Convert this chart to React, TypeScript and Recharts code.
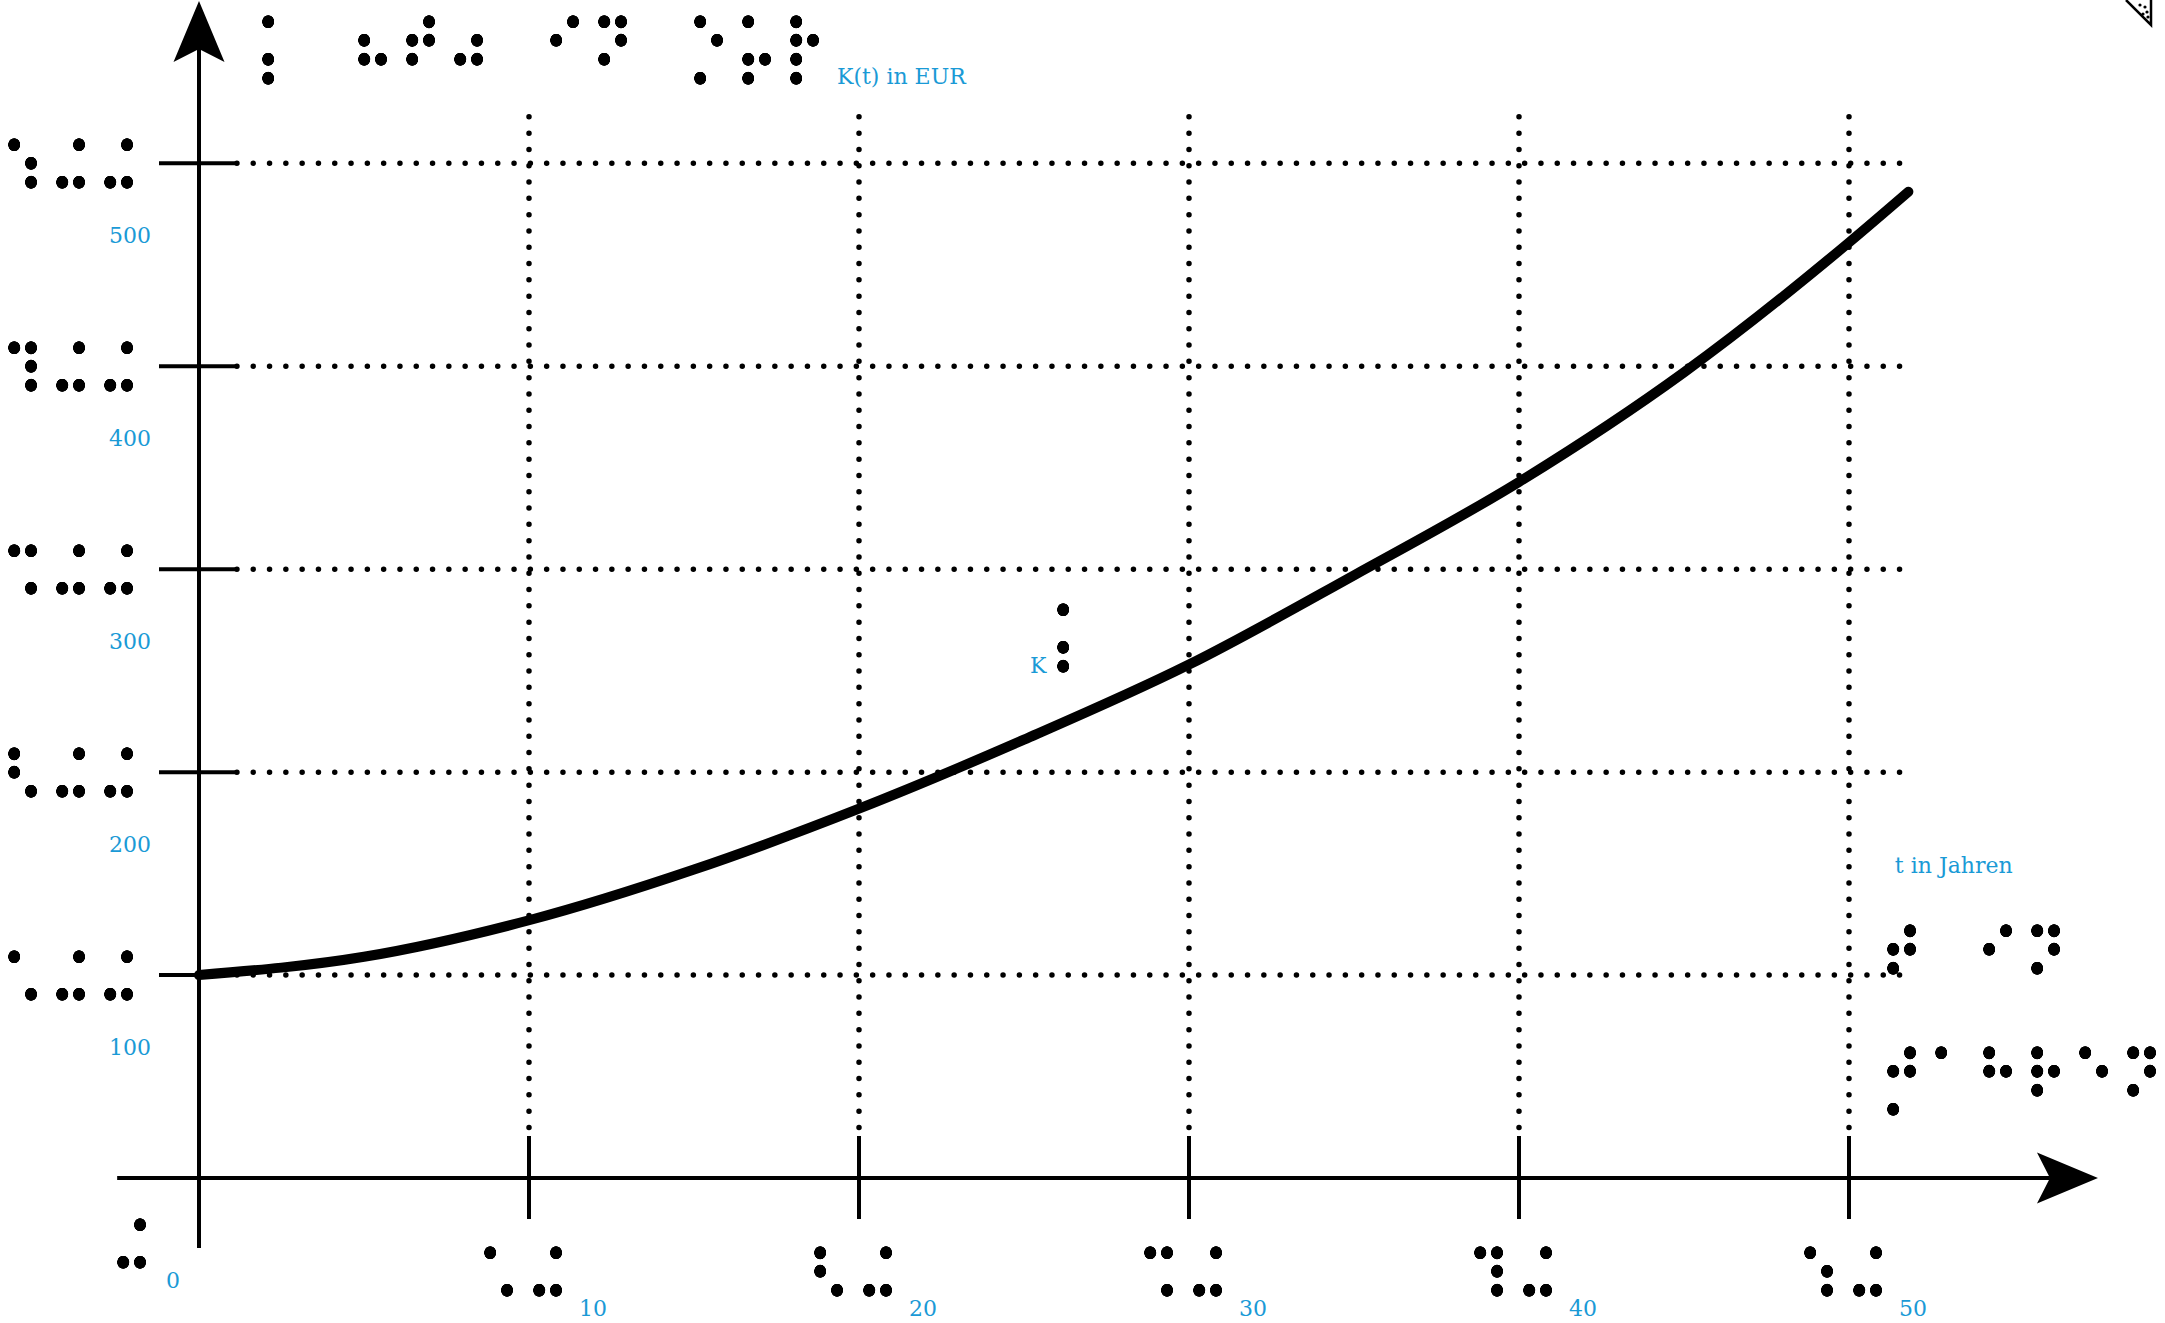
import React from "react";
import { LineChart, Line, XAxis, YAxis, ReferenceLine, ReferenceDot } from "recharts";

// K(t)
const years = [0, 5, 10, 15, 20, 25, 30, 35, 40, 45, 50, 51.8];
const capital = [100, 109, 127, 152, 182, 216, 253, 297, 343, 397, 461, 486];

const xTicks = [0, 10, 20, 30, 40, 50];
const yTicks = [100, 200, 300, 400, 500];
// eurobraille digits
const xTickBraille = ["\u282C", "\u2821\u282C", "\u2823\u282C", "\u2829\u282C", "\u2839\u282C", "\u2831\u282C"];
const yTickBraille = ["\u2821\u282C\u282C", "\u2823\u282C\u282C", "\u2829\u282C\u282C", "\u2839\u282C\u282C", "\u2831\u282C\u282C"];

const yTitle = "K(t) in EUR";
const yTitleBraille = "\u2845\u2800\u2826\u281E\u2834\u2800\u280A\u281D\u2800\u2851\u2865\u2857";
const xTitle = "t in Jahren";
const xTitleBraille = ["\u281E\u2800\u280A\u281D", "\u285A\u2801\u2813\u2817\u2811\u281D"];
const curveName = "K";
const curveBraille = "\u2845";

const data = years.map((t, i) => ({ t, k: capital[i] }));

const BLUE = "#1a9ad6";
const INK = "'DejaVu Serif', serif";

// DejaVu Sans braille glyph metrics (em), measured
const BR_A = 0.215; // centre of left dot column
const BR_B = 0.51; // centre of right dot column
const BR_R1 = -0.71; // centre of top row
const BR_STEP = 0.2775; // row step
const COL_GAP = 17;
const ROW_GAP = 19;

function Braille({ text, x, y, pitch = 48 }: any) {
  const fs = ROW_GAP / BR_STEP;
  const sx = COL_GAP / ((BR_B - BR_A) * fs);
  const xs = Array.from(text).map((_, i) => (i * pitch) / sx - BR_A * fs);
  return (
    <g filter="url(#brailleDots)">
      <text
        transform={`translate(${x} ${y}) scale(${sx} 1)`}
        x={xs.join(" ")}
        y={-BR_R1 * fs}
        fontFamily="'DejaVu Sans'"
        fontSize={fs}
        fill="#000"
      >
        {text}
      </text>
    </g>
  );
}

function XTick(props: any) {
  const { x, y, payload } = props;
  const i = xTicks.indexOf(payload.value);
  if (payload.value === 0) {
    return (
      <g>
        <Braille text={xTickBraille[i]} x={x - 76} y={y + 46} />
        <text x={x - 33} y={y + 110} fill={BLUE} fontFamily={INK} fontSize={22}>
          {payload.value}
        </text>
      </g>
    );
  }
  return (
    <g>
      <line x1={x} x2={x} y1={y - 42} y2={y + 41} stroke="#000" strokeWidth={4} />
      <Braille text={xTickBraille[i]} x={x - 39} y={y + 74} pitch={49} />
      <text x={x + 50} y={y + 138} fill={BLUE} fontFamily={INK} fontSize={22}>
        {payload.value}
      </text>
    </g>
  );
}

function YTick(props: any) {
  const { x, y, payload } = props;
  const i = yTicks.indexOf(payload.value);
  return (
    <g>
      <line x1={x - 40} x2={x + 38} y1={y} y2={y} stroke="#000" strokeWidth={4} />
      <Braille text={yTickBraille[i]} x={x - 185} y={y - 19} />
      <text x={x - 48} y={y + 80} textAnchor="end" fill={BLUE} fontFamily={INK} fontSize={22}>
        {payload.value}
      </text>
    </g>
  );
}

function Arrow(props: any) {
  const { x1, y1, x2, y2 } = props;
  const len = Math.hypot(x2 - x1, y2 - y1);
  const ux = (x2 - x1) / len;
  const uy = (y2 - y1) / len;
  const px = -uy;
  const py = ux;
  const tip = [x2 + ux * 48, y2 + uy * 48];
  const back = [x2 - ux * 13, y2 - uy * 13];
  const pts = [
    tip,
    [back[0] + px * 25.5, back[1] + py * 25.5],
    [x2, y2],
    [back[0] - px * 25.5, back[1] - py * 25.5],
  ]
    .map((p) => p.join(","))
    .join(" ");
  return (
    <g>
      <line x1={x1} y1={y1} x2={x2} y2={y2} stroke="#000" strokeWidth={4} />
      <polygon points={pts} fill="#000" />
    </g>
  );
}

export default function App() {
  return (
    <div style={{ position: "absolute", left: 0, top: 0, width: 2165, height: 1323, background: "#fff" }}>
      <svg width={0} height={0} style={{ position: "absolute" }}>
        <defs>
          {/* round off the square braille dots of the font */}
          <filter id="brailleDots" x="-50%" y="-50%" width="200%" height="200%">
            <feGaussianBlur stdDeviation="3" />
            <feComponentTransfer>
              <feFuncA type="linear" slope="20" intercept="-4.8" />
            </feComponentTransfer>
          </filter>
        </defs>
      </svg>
      <LineChart width={2165} height={1323} data={data} margin={{ top: 1, right: 52, bottom: 115, left: 139 }}>
        <XAxis
          dataKey="t"
          type="number"
          domain={[0, 58]}
          ticks={xTicks}
          interval={0}
          height={30}
          axisLine={false}
          tickLine={false}
          tickSize={0}
          tickMargin={0}
          tick={<XTick />}
        />
        <YAxis
          type="number"
          domain={[0, 580]}
          ticks={yTicks}
          interval={0}
          width={60}
          axisLine={false}
          tickLine={false}
          tickSize={0}
          tickMargin={0}
          tick={<YTick />}
        />
        {xTicks.slice(1).map((t) => (
          <ReferenceLine
            key={"v" + t}
            segment={[{ x: t, y: 522.9 }, { x: t, y: 22.7 }]}
            stroke="#000"
            strokeWidth={5.5}
            strokeDasharray="0 16.3"
            strokeLinecap="round"
            ifOverflow="visible"
          />
        ))}
        {yTicks.map((v) => (
          <ReferenceLine
            key={"h" + v}
            segment={[{ x: 1.15, y: v }, { x: 51.6, y: v }]}
            stroke="#000"
            strokeWidth={5.5}
            strokeDasharray="0 16.3"
            strokeLinecap="round"
            ifOverflow="visible"
          />
        ))}
        <ReferenceLine segment={[{ x: -2.48, y: 0 }, { x: 56.09, y: 0 }]} ifOverflow="visible" shape={Arrow} />
        <ReferenceLine segment={[{ x: 0, y: -34.5 }, { x: 0, y: 556.4 }]} ifOverflow="visible" shape={Arrow} />
        <Line
          type="monotone"
          dataKey="k"
          stroke="#000"
          strokeWidth={10}
          strokeLinecap="round"
          dot={false}
          activeDot={false}
          isAnimationActive={false}
        />
        <ReferenceDot
          x={2.09}
          y={570}
          r={0}
          ifOverflow="visible"
          shape={(p: any) => (
            <g>
              <Braille text={yTitleBraille} x={p.cx} y={p.cy} />
              <text x={p.cx + 569} y={p.cy + 63} fill={BLUE} fontFamily={INK} fontSize={22}>
                {yTitle}
              </text>
            </g>
          )}
        />
        <ReferenceDot
          x={51.39}
          y={150.3}
          r={0}
          ifOverflow="visible"
          shape={(p: any) => (
            <g>
              <text x={p.cx} y={p.cy} fill={BLUE} fontFamily={INK} fontSize={22}>
                {xTitle}
              </text>
              <Braille text={xTitleBraille[0]} x={p.cx - 2} y={p.cy + 57} />
              <Braille text={xTitleBraille[1]} x={p.cx - 2} y={p.cy + 179} />
            </g>
          )}
        />
        <ReferenceDot
          x={25.18}
          y={248.9}
          r={0}
          ifOverflow="visible"
          shape={(p: any) => (
            <g>
              <text x={p.cx} y={p.cy} fill={BLUE} fontFamily={INK} fontSize={22}>
                {curveName}
              </text>
              <Braille text={curveBraille} x={p.cx + 33} y={p.cy - 64} />
            </g>
          )}
        />
      </LineChart>
      <svg width={40} height={30} style={{ position: "absolute", left: 2125, top: 0 }}>
        <path d="M1 0 L26 25 L26 0" fill="none" stroke="#000" strokeWidth={2.5} />
        <circle cx={15} cy={5} r={1.6} fill="#000" />
        <circle cx={20} cy={7} r={1.6} fill="#000" />
        <circle cx={22} cy={12} r={1.6} fill="#000" />
        <circle cx={23} cy={17} r={1.6} fill="#000" />
        <circle cx={18} cy={14} r={1.6} fill="#000" />
      </svg>
    </div>
  );
}
